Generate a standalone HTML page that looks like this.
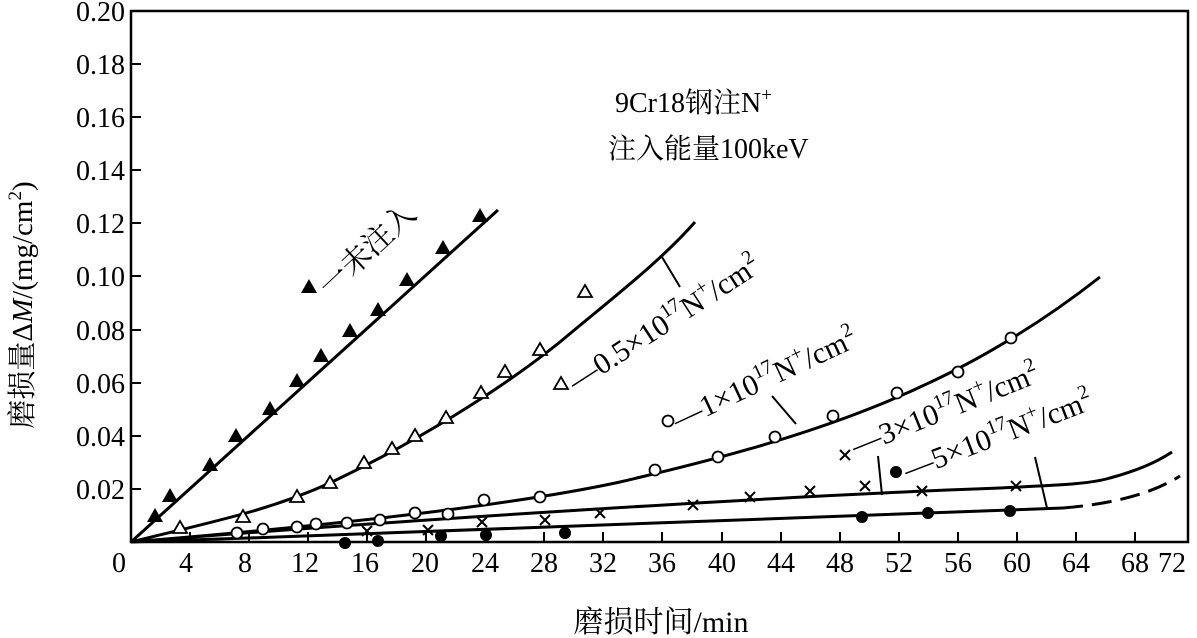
<!DOCTYPE html>
<html><head><meta charset="utf-8"><style>
html,body{margin:0;padding:0;background:#fff;}
svg{display:block;}
text{font-family:"Liberation Serif","Noto Serif CJK SC","Noto Sans CJK SC",serif;fill:#000;}
</style></head><body>
<svg width="1197" height="638" viewBox="0 0 1197 638" xmlns="http://www.w3.org/2000/svg">
<defs>
<path id="tf" d="M0,-8 L8,6 L-8,6 Z" fill="#000"/>
<path id="to" d="M0,-7 L7,5 L-7,5 Z" fill="#fff" stroke="#000" stroke-width="1.8"/>
<circle id="co" r="5.5" fill="#fff" stroke="#000" stroke-width="1.8"/>
<circle id="cf" r="6" fill="#000"/>
<path id="x" d="M-5,-5 L5,5 M-5,5 L5,-5" stroke="#000" stroke-width="2"/>
</defs>
<rect x="131" y="11" width="1057" height="531" fill="none" stroke="#000" stroke-width="2.5"/>
<g stroke="#000" stroke-width="2">
<line x1="131" y1="64" x2="141" y2="64"/><line x1="131" y1="117" x2="141" y2="117"/>
<line x1="131" y1="170" x2="141" y2="170"/><line x1="131" y1="223" x2="141" y2="223"/>
<line x1="131" y1="276" x2="141" y2="276"/><line x1="131" y1="330" x2="141" y2="330"/>
<line x1="131" y1="383" x2="141" y2="383"/><line x1="131" y1="436" x2="141" y2="436"/>
<line x1="131" y1="489" x2="141" y2="489"/>
<line x1="190" y1="542" x2="190" y2="532"/><line x1="249" y1="542" x2="249" y2="532"/>
<line x1="308" y1="542" x2="308" y2="532"/><line x1="367" y1="542" x2="367" y2="532"/>
<line x1="426" y1="542" x2="426" y2="532"/><line x1="485" y1="542" x2="485" y2="532"/>
<line x1="544" y1="542" x2="544" y2="532"/><line x1="603" y1="542" x2="603" y2="532"/>
<line x1="662" y1="542" x2="662" y2="532"/><line x1="722" y1="542" x2="722" y2="532"/>
<line x1="781" y1="542" x2="781" y2="532"/><line x1="840" y1="542" x2="840" y2="532"/>
<line x1="899" y1="542" x2="899" y2="532"/><line x1="958" y1="542" x2="958" y2="532"/>
<line x1="1017" y1="542" x2="1017" y2="532"/><line x1="1076" y1="542" x2="1076" y2="532"/>
<line x1="1135" y1="542" x2="1135" y2="532"/>
</g>
<g font-size="28" text-anchor="end">
<text x="125" y="21">0.20</text><text x="125" y="74">0.18</text><text x="125" y="127">0.16</text>
<text x="125" y="180">0.14</text><text x="125" y="233">0.12</text><text x="125" y="286">0.10</text>
<text x="125" y="340">0.08</text><text x="125" y="393">0.06</text><text x="125" y="446">0.04</text>
<text x="125" y="499">0.02</text>
</g>
<g font-size="28" text-anchor="middle">
<text x="119" y="572">0</text><text x="186" y="572">4</text><text x="245" y="572">8</text>
<text x="305" y="572">12</text><text x="365" y="572">16</text><text x="425" y="572">20</text>
<text x="485" y="572">24</text><text x="544" y="572">28</text><text x="603" y="572">32</text>
<text x="662" y="572">36</text><text x="722" y="572">40</text><text x="781" y="572">44</text>
<text x="840" y="572">48</text><text x="899" y="572">52</text><text x="958" y="572">56</text>
<text x="1017" y="572">60</text><text x="1076" y="572">64</text><text x="1135" y="572">68</text>
<text x="1172" y="572">72</text>
</g>
<text x="661" y="632" font-size="30" text-anchor="middle">磨损时间/min</text>
<text transform="translate(32,305) rotate(-90)" font-size="29" text-anchor="middle">磨损量Δ<tspan font-style="italic">M</tspan>/(mg/cm<tspan font-size="19" dy="-11">2</tspan><tspan dy="11">)</tspan></text>
<text x="615" y="112" font-size="28">9Cr18钢注N<tspan font-size="19" dy="-11">+</tspan></text>
<text x="608" y="158" font-size="28">注入能量100keV</text>
<g fill="none" stroke="#000" stroke-width="3">
<line x1="131" y1="542" x2="498" y2="210"/>
<path d="M131,542 C220,520 270,510 330,483 C420,440 500,390 560,342 C610,300 660,262 695,222"/>
<path d="M131,542 C300,528 500,508 620,482 C800,440 950,395 1100,277"/>
<path d="M131,542 C400,520 800,495 1000,488 C1060,485 1090,484 1110,478 C1140,470 1160,460 1172,452"/>
<path d="M131,542 C500,530 900,512 1063,508"/>
<path d="M1063,508 C1110,504 1150,495 1180,476" stroke-dasharray="20,9"/>
<line x1="662" y1="257" x2="680" y2="287" stroke-width="2"/>
<line x1="772" y1="396" x2="796" y2="424" stroke-width="2"/>
<line x1="878" y1="456" x2="882" y2="495" stroke-width="2"/>
<line x1="1035" y1="457" x2="1047" y2="508" stroke-width="2"/>
</g>
<g>
<use href="#tf" x="155" y="516"/><use href="#tf" x="170" y="496"/><use href="#tf" x="210" y="465"/>
<use href="#tf" x="236" y="436"/><use href="#tf" x="270" y="409"/><use href="#tf" x="297" y="381"/>
<use href="#tf" x="309" y="287"/><use href="#tf" x="321" y="356"/><use href="#tf" x="350" y="331"/>
<use href="#tf" x="378" y="310"/><use href="#tf" x="407" y="280"/><use href="#tf" x="443" y="248"/>
<use href="#tf" x="480" y="216"/>
<use href="#to" x="180" y="528"/><use href="#to" x="243" y="517"/><use href="#to" x="297" y="497"/>
<use href="#to" x="330" y="483"/><use href="#to" x="364" y="463"/><use href="#to" x="392" y="449"/>
<use href="#to" x="415" y="436"/><use href="#to" x="446" y="418"/><use href="#to" x="481" y="393"/>
<use href="#to" x="505" y="372"/><use href="#to" x="540" y="350"/><use href="#to" x="585" y="292"/>
<use href="#to" x="561" y="384"/>
<use href="#co" x="237" y="533"/><use href="#co" x="263" y="529"/><use href="#co" x="297" y="527"/>
<use href="#co" x="316" y="524"/><use href="#co" x="347" y="523"/><use href="#co" x="380" y="520"/>
<use href="#co" x="415" y="513"/><use href="#co" x="448" y="514"/><use href="#co" x="484" y="500"/>
<use href="#co" x="540" y="497"/><use href="#co" x="655" y="470"/><use href="#co" x="718" y="457"/>
<use href="#co" x="775" y="437"/><use href="#co" x="833" y="416"/><use href="#co" x="897" y="393"/>
<use href="#co" x="958" y="372"/><use href="#co" x="1011" y="338"/><use href="#co" x="668" y="421"/>
<use href="#x" x="367" y="531"/><use href="#x" x="428" y="530"/><use href="#x" x="482" y="522"/>
<use href="#x" x="545" y="520"/><use href="#x" x="600" y="513"/><use href="#x" x="693" y="505"/>
<use href="#x" x="750" y="497"/><use href="#x" x="810" y="491"/><use href="#x" x="865" y="486"/>
<use href="#x" x="922" y="491"/><use href="#x" x="1016" y="486"/><use href="#x" x="845" y="455"/>
<use href="#cf" x="345" y="543"/><use href="#cf" x="378" y="541"/><use href="#cf" x="441" y="536"/>
<use href="#cf" x="486" y="535"/><use href="#cf" x="565" y="533"/><use href="#cf" x="862" y="517"/>
<use href="#cf" x="928" y="513"/><use href="#cf" x="1010" y="511"/><use href="#cf" x="896" y="472"/>
</g>
<g font-size="30">
<text transform="translate(330,298) rotate(-43)">一未注入</text>
<text transform="translate(576,392) rotate(-33)">—0.5×10<tspan font-size="20" dy="-13">17</tspan><tspan dy="13">N</tspan><tspan font-size="20" dy="-13">+</tspan><tspan dy="13">/cm</tspan><tspan font-size="20" dy="-13">2</tspan></text>
<text transform="translate(678,430) rotate(-25)">—1×10<tspan font-size="20" dy="-13">17</tspan><tspan dy="13">N</tspan><tspan font-size="20" dy="-13">+</tspan><tspan dy="13">/cm</tspan><tspan font-size="20" dy="-13">2</tspan></text>
<text transform="translate(856,456) rotate(-22)">—3×10<tspan font-size="20" dy="-13">17</tspan><tspan dy="13">N</tspan><tspan font-size="20" dy="-13">+</tspan><tspan dy="13">/cm</tspan><tspan font-size="20" dy="-13">2</tspan></text>
<text transform="translate(908,480) rotate(-21)">—5×10<tspan font-size="20" dy="-13">17</tspan><tspan dy="13">N</tspan><tspan font-size="20" dy="-13">+</tspan><tspan dy="13">/cm</tspan><tspan font-size="20" dy="-13">2</tspan></text>
</g>
</svg>
</body></html>
